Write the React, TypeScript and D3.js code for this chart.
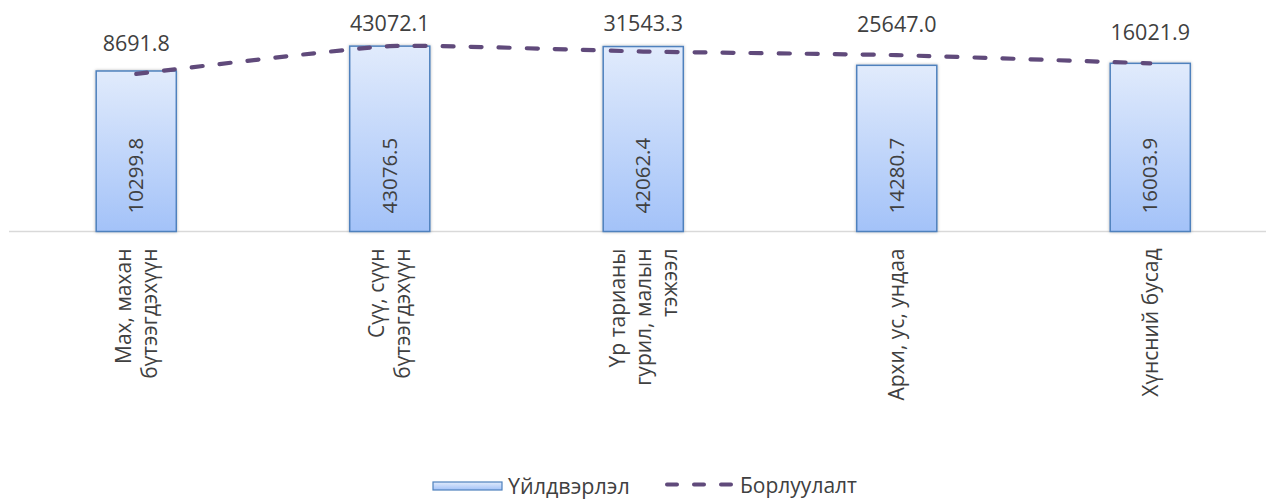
import React, { useEffect, useRef } from 'react'
import * as d3 from 'd3'

const CATEGORIES = [
  ['Мах, махан', 'бүтээгдэхүүн'],
  ['Сүү, сүүн', 'бүтээгдэхүүн'],
  ['Үр тарианы', 'гурил, малын', 'тэжээл'],
  ['Архи, ус, ундаа'],
  ['Хүнсний бусад'],
]
const PRODUCTION = [10299.8, 43076.5, 42062.4, 14280.7, 16003.9]
const SALES = [8691.8, 43072.1, 31543.3, 25647.0, 16021.9]
const SERIES_NAMES = ['Үйлдвэрлэл', 'Борлуулалт']

const FONT = '"Open Sans", "Liberation Sans", sans-serif'
const TEXT = '#404040'
const LINE = '#604a7b'

export default function App() {
  const svgRef = useRef<SVGSVGElement>(null)

  useEffect(() => {
    if (!svgRef.current) return
    const width = 1266
    const height = 499
    const baseY = 231.5

    const svg = d3.select(svgRef.current)
    svg.selectAll('*').remove()

    const defs = svg.append('defs')
    const grad = defs
      .append('linearGradient')
      .attr('id', 'barGrad')
      .attr('x1', 0)
      .attr('y1', 0)
      .attr('x2', 0)
      .attr('y2', 1)
    grad.append('stop').attr('offset', '0%').attr('stop-color', '#e1ebfc')
    grad.append('stop').attr('offset', '100%').attr('stop-color', '#a3c2f8')

    const shadow = defs
      .append('filter')
      .attr('id', 'shadow')
      .attr('x', '-20%')
      .attr('y', '-10%')
      .attr('width', '140%')
      .attr('height', '120%')
    shadow
      .append('feDropShadow')
      .attr('dx', 0)
      .attr('dy', 0)
      .attr('stdDeviation', 1.6)
      .attr('flood-color', '#000')
      .attr('flood-opacity', 0.3)

    const idx = CATEGORIES.map((_, i) => String(i))
    const x = d3.scaleBand().domain(idx).range([9.5, 1277]).paddingInner(0.684).paddingOuter(0.342)
    const y = d3.scaleLog().domain([1, 100000]).range([baseY, 31.5])
    const cx = (i: number) => (x(String(i)) ?? 0) + x.bandwidth() / 2

    // axis baseline
    svg
      .append('line')
      .attr('x1', 9)
      .attr('x2', width)
      .attr('y1', baseY)
      .attr('y2', baseY)
      .attr('stroke', '#d9d9d9')
      .attr('stroke-width', 1.5)

    // bars
    svg
      .append('g')
      .selectAll('rect')
      .data(PRODUCTION)
      .enter()
      .append('rect')
      .attr('x', (_, i) => x(String(i)) ?? 0)
      .attr('y', (d) => y(d))
      .attr('width', x.bandwidth())
      .attr('height', (d) => baseY - y(d))
      .attr('fill', 'url(#barGrad)')
      .attr('stroke', '#4f81bd')
      .attr('stroke-width', 1.5)
      .attr('filter', 'url(#shadow)')

    // bar value labels (rotated)
    svg
      .append('g')
      .selectAll('text')
      .data(PRODUCTION)
      .enter()
      .append('text')
      .attr('transform', (_, i) => `translate(${cx(i)},${baseY - 18}) rotate(-90)`)
      .attr('dy', '0.35em')
      .attr('text-anchor', 'start')
      .attr('font-family', FONT)
      .attr('font-size', 20.5)
      .attr('fill', TEXT)
      .text((d) => d.toFixed(1))

    // sales line
    const line = d3
      .line<number>()
      .x((_, i) => cx(i))
      .y((d) => y(d))
      .curve(d3.curveCardinal.tension(0.55))

    svg
      .append('path')
      .datum(SALES)
      .attr('fill', 'none')
      .attr('stroke', LINE)
      .attr('stroke-width', 4.2)
      .attr('stroke-dasharray', '11 17')
      .attr('stroke-linecap', 'round')
      .attr('d', line)

    // sales labels
    svg
      .append('g')
      .selectAll('text')
      .data(SALES)
      .enter()
      .append('text')
      .attr('x', (_, i) => cx(i))
      .attr('y', (d) => Math.max(y(d) - 23, 31))
      .attr('text-anchor', 'middle')
      .attr('font-family', FONT)
      .attr('font-size', 21.5)
      .attr('fill', TEXT)
      .text((d) => d.toFixed(1))

    // category labels
    const lh = 26
    const cats = svg
      .append('g')
      .selectAll('g')
      .data(CATEGORIES)
      .enter()
      .append('g')
      .attr('transform', (_, i) => `translate(${cx(i)},${baseY + 17}) rotate(-90)`)
    cats
      .selectAll('text')
      .data((d) => d.map((t, j) => ({ t, off: (j - (d.length - 1) / 2) * lh })))
      .enter()
      .append('text')
      .attr('x', 0)
      .attr('y', (d) => d.off)
      .attr('dy', '0.35em')
      .attr('text-anchor', 'end')
      .attr('font-family', FONT)
      .attr('font-size', 21)
      .attr('fill', TEXT)
      .text((d) => d.t)

    // legend
    const lg = svg.append('g')
    lg.append('rect')
      .attr('x', 433)
      .attr('y', 482)
      .attr('width', 69)
      .attr('height', 8)
      .attr('fill', 'url(#barGrad)')
      .attr('stroke', '#4f81bd')
      .attr('stroke-width', 1.2)
    lg.append('text')
      .attr('x', 508)
      .attr('y', 486)
      .attr('dy', '0.35em')
      .attr('font-family', FONT)
      .attr('font-size', 21.5)
      .attr('fill', TEXT)
      .text(SERIES_NAMES[0])
    lg.append('line')
      .attr('x1', 667)
      .attr('x2', 733)
      .attr('y1', 484.5)
      .attr('y2', 484.5)
      .attr('stroke', LINE)
      .attr('stroke-width', 4)
      .attr('stroke-dasharray', '10 17')
      .attr('stroke-linecap', 'round')
    lg.append('text')
      .attr('x', 740)
      .attr('y', 486)
      .attr('dy', '0.35em')
      .attr('font-family', FONT)
      .attr('font-size', 21)
      .attr('fill', TEXT)
      .text(SERIES_NAMES[1])

    svg.attr('width', width).attr('height', height)
  }, [])

  return (
    <svg
      ref={svgRef}
      width={1266}
      height={499}
      style={{ position: 'absolute', left: 0, top: 0, background: '#fff' }}
    />
  )
}
